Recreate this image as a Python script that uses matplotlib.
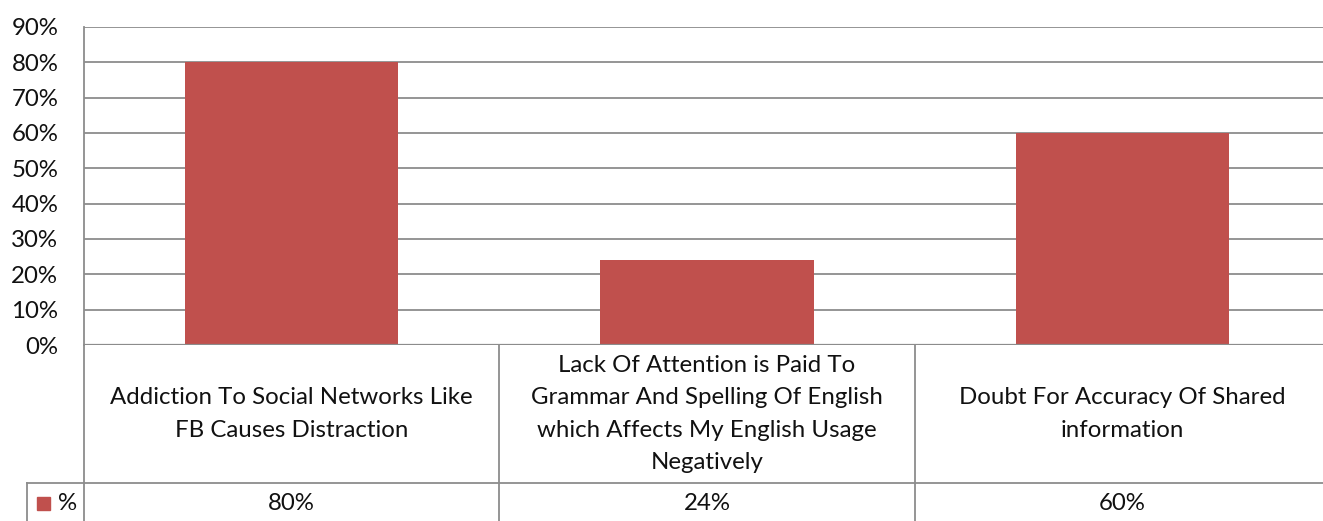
import matplotlib
matplotlib.use("Agg")
import matplotlib.pyplot as plt
from matplotlib.lines import Line2D
from matplotlib.patches import Rectangle

categories = [
    "Addiction To Social Networks Like\nFB Causes Distraction",
    "Lack Of Attention is Paid To\nGrammar And Spelling Of English\nwhich Affects My English Usage\nNegatively",
    "Doubt For Accuracy Of Shared\ninformation",
]
values = [0.80, 0.24, 0.60]
value_labels = ["80%", "24%", "60%"]
series_name = "%"
y_ticks = [0, 0.1, 0.2, 0.3, 0.4, 0.5, 0.6, 0.7, 0.8, 0.9]
y_tick_labels = ["0%", "10%", "20%", "30%", "40%", "50%", "60%", "70%", "80%", "90%"]

W, H = 1323, 521
BAR = "#C0504D"
GRID = "#8C8C8C"
plt.rcParams['font.family'] = ['Lato', 'DejaVu Sans']
FS = 17.3

fig = plt.figure(figsize=(W / 100, H / 100), dpi=100)

def fx(px):
    return px / W

def fy(py):
    return 1 - py / H

x_left, x_right = 84, 1330
y_top, y_zero = 27, 345
y_row, y_bot = 483, 521

ax = fig.add_axes([fx(x_left), fy(y_zero), fx(x_right - x_left), fy(y_top) - fy(y_zero)])
xs = list(range(len(categories)))
ax.bar(xs, values, width=0.513, color=BAR, zorder=3)
ax.set_xlim(-0.5, len(categories) - 0.5)
ax.set_ylim(0, 0.9)
ax.set_yticks(y_ticks)
ax.set_yticklabels(y_tick_labels, fontsize=FS, color="#111111")
ax.tick_params(axis='y', length=0, pad=18.5)
ax.set_xticks([])
for s in ["top", "right", "bottom"]:
    ax.spines[s].set_visible(False)
ax.spines["left"].set_color(GRID)
ax.spines["left"].set_linewidth(1.3)
ax.yaxis.grid(True, color=GRID, linewidth=1.3, zorder=0)
ax.set_axisbelow(True)
ax.axhline(0, color=GRID, linewidth=1.6, zorder=4)

# data table axis
tax = fig.add_axes([fx(x_left), 0, fx(x_right - x_left), fy(y_zero)])
tax.set_xlim(-0.5, len(categories) - 0.5)
tax.set_ylim(0, y_bot - y_zero)
tax.invert_yaxis()
tax.axis('off')

for i in range(len(categories)):
    tax.add_line(Line2D([i - 0.5, i - 0.5], [0, y_bot - y_zero], color=GRID, linewidth=1.3, clip_on=False))
fig.add_artist(Line2D([fx(27), 1], [fy(y_row), fy(y_row)], color=GRID, linewidth=1.3))
fig.add_artist(Line2D([fx(27), fx(27)], [fy(y_row), 0], color=GRID, linewidth=1.3))

mid1 = (y_row - y_zero) / 2
mid2 = (y_row - y_zero) + (y_bot - y_row) / 2 + 1
for i, (c, v) in enumerate(zip(categories, value_labels)):
    tax.text(i, mid1, c, ha='center', va='center', multialignment='center',
             fontsize=FS, color="#111111", linespacing=1.68)
    tax.text(i, mid2, v, ha='center', va='center', fontsize=FS, color="#111111")

fig.add_artist(Rectangle((fx(37), fy(510)), fx(13), fy(497) - fy(510), color=BAR))
fig.text(fx(58), fy(503), series_name, ha='left', va='center', fontsize=FS, color="#111111")

fig.savefig("out.png", dpi=100)
